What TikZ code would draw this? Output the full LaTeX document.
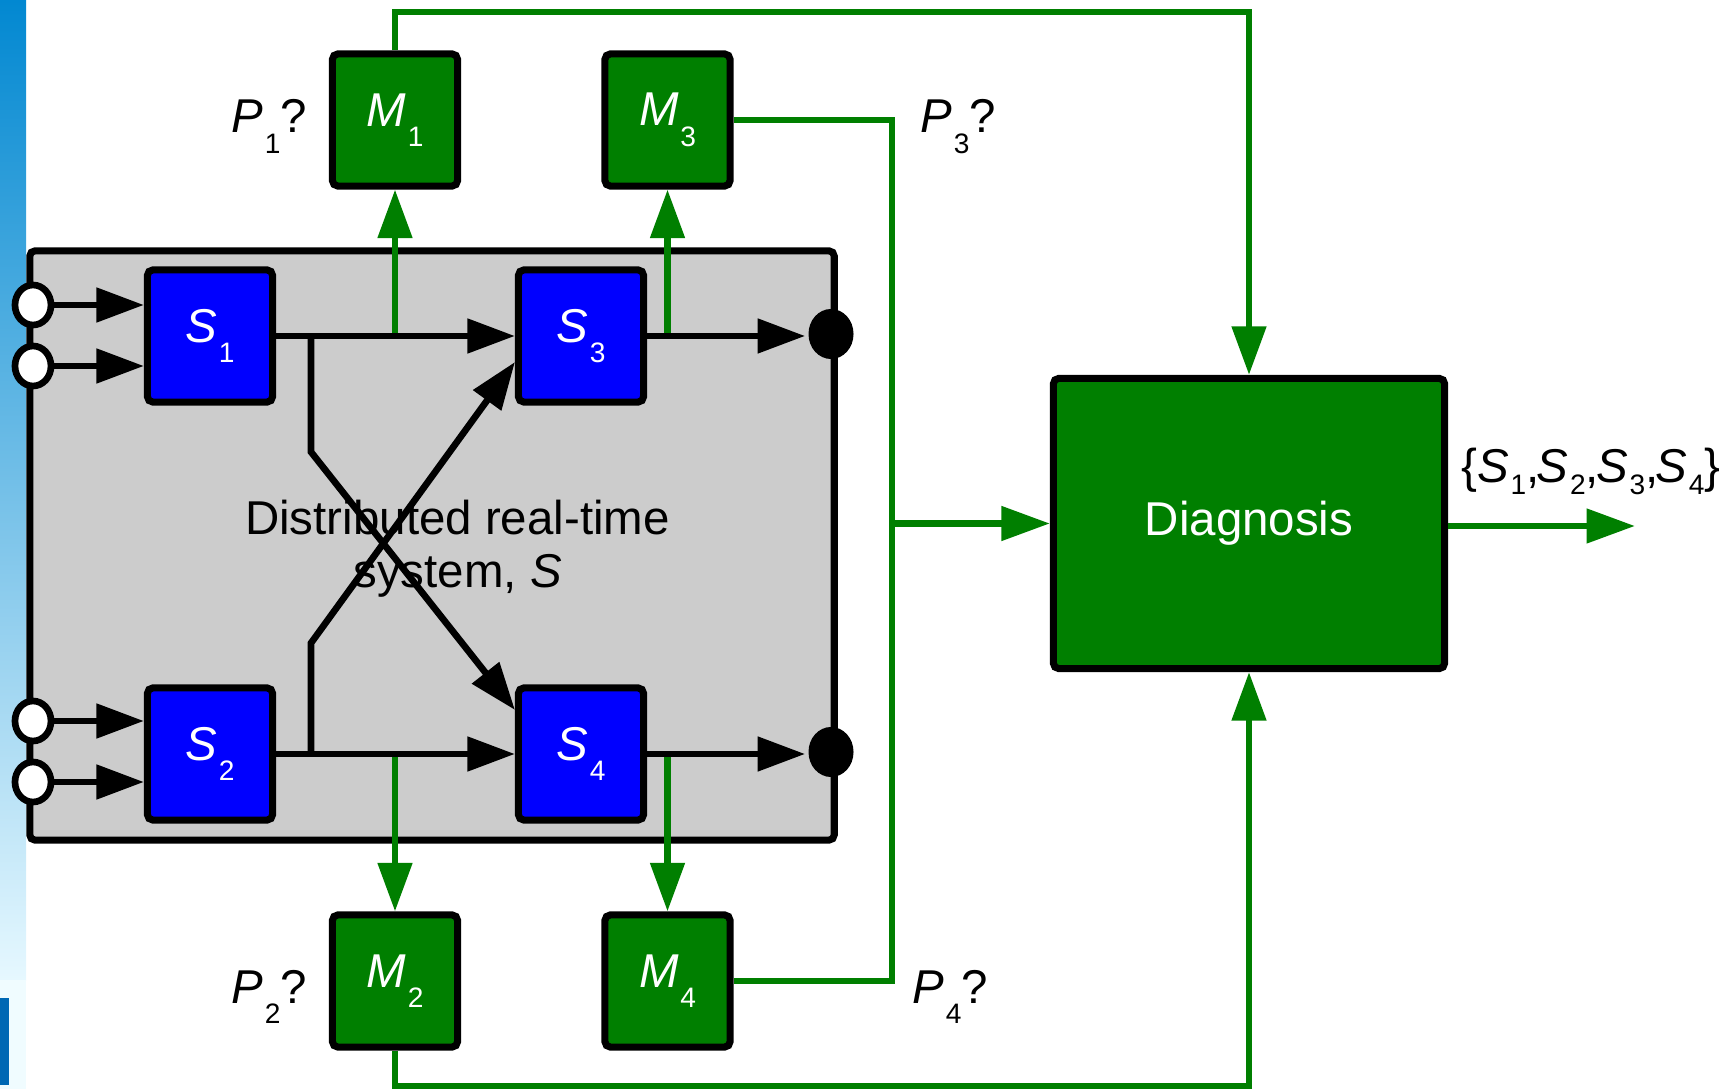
\documentclass[tikz,border=0pt]{standalone}
\usepackage{fontspec}
\setmainfont{Liberation Sans}
\usetikzlibrary{arrows.meta, positioning, shapes.geometric, calc}
\definecolor{cblue}{HTML}{0000FF}
\definecolor{cgreen}{HTML}{007F00}
\definecolor{cgrey}{HTML}{CCCCCC}
\definecolor{stripa}{HTML}{0288D1}
\definecolor{stripb}{HTML}{E6F8FF}
\definecolor{stripc}{HTML}{F0FCFF}
\definecolor{stripd}{HTML}{0068B4}
\tikzset{
  every picture/.style={font=\fontsize{13.5}{15.2}\selectfont, line width=1.9pt},
  unit/.style={draw=black, fill=#1, line width=2pt, rounded corners=1.5pt, minimum width=1.25cm, minimum height=1.32cm, inner sep=0pt, text=white},
  unit/.default=cblue,
  sysbox/.style={draw=black, fill=cgrey, line width=2pt, rounded corners=1.5pt, minimum width=8.04cm, minimum height=5.89cm},
  flow/.style={-{Triangle[length=13.5pt, width=9.5pt]}, draw=black, line width=1.9pt},
  gline/.style={draw=cgreen, line width=1.9pt},
  gflow/.style={gline, -{Triangle[length=13.8pt, width=9.5pt]}},
  port/.style={ellipse, draw=black, fill=white, line width=1.9pt, minimum width=0.36cm, minimum height=0.40cm, inner sep=0pt},
  sink/.style={ellipse, fill=black, minimum width=0.45cm, minimum height=0.50cm, inner sep=0pt},
  note/.style={text=black, inner sep=0pt},
}
\newcommand{\subidx}[3][-5.8pt]{\textit{#2}\kern0.5pt\raisebox{#1}{\fontsize{8}{9}\selectfont #3}}

\begin{document}
\begin{tikzpicture}[x=0.01cm, y=-0.01cm]
  \useasboundingbox (0,0) rectangle (1728,1089);
  % slide edge
  \shade[top color=stripa, bottom color=stripb] (0,0) rectangle (26,980);
  \fill[stripc] (0,980) rectangle (26,1089);
  \fill[stripd] (0,998) rectangle (9,1085);
  % the system and its parts
  \node[sysbox] (sys) at (432,545.5) {};
  \node[align=center] (sysname) at (457.5,549) {Distributed real-time\\system, \textit{S}};
  \node[unit] (S1) at (210,336) {\subidx{S}{1}};
  \node[unit] (S2) at (210,754) {\subidx{S}{2}};
  \node[unit] (S3) at (581,336) {\subidx{S}{3}};
  \node[unit] (S4) at (581,754) {\subidx{S}{4}};
  \foreach \n/\y in {1/305, 2/366, 3/721, 4/782}
    \node[port] (in\n) at (33,\y) {};
  \node[sink] (out1) at (831,334) {};
  \node[sink] (out2) at (831,752) {};
  % monitors and diagnosis
  \node[unit=cgreen] (M1) at (395,120) {\subidx{M}{1}};
  \node[unit=cgreen] (M3) at (667.5,120) {\subidx{M}{3}};
  \node[unit=cgreen] (M2) at (395,981) {\subidx{M}{2}};
  \node[unit=cgreen] (M4) at (667.5,981) {\subidx{M}{4}};
  \node[unit=cgreen, minimum width=3.91cm, minimum height=2.90cm] (diag) at (1249,523.5) {Diagnosis};
  % probes
  \draw[gflow] (M1 |- S1.east) -- (M1.south);
  \draw[gflow] (M3 |- S3.east) -- (M3.south);
  \draw[gflow] (M2 |- S2.east) -- (M2.north);
  \draw[gflow] (M4 |- S4.east) -- (M4.north);
  % signal flow inside S
  \foreach \n/\s in {1/S1, 2/S1, 3/S2, 4/S2}
    \draw[flow] (in\n) -- (in\n -| \s.west);
  \draw[flow] (S1.east) -- (S3.west);
  \draw[flow] (S2.east) -- (S4.west);
  \draw[flow] (S3.east) -- (S3.east -| out1.west);
  \draw[flow] (S4.east) -- (S4.east -| out2.west);
  \coordinate (j1) at ($(S1.east)+(35,0)$);
  \coordinate (j2) at ($(S2.east)+(35,0)$);
  \draw[flow] (j1) -- ++(0,116) -- ([yshift=0.44cm]S4.west);
  \draw[flow] (j2) -- ++(0,-111) -- ([yshift=-0.26cm]S3.west);
  % monitor outputs to diagnosis
  \coordinate (ytop) at (0,12);
  \coordinate (ybot) at (0,1086);
  \coordinate (bus) at (892,523.5);
  \coordinate (res) at (1635,526);
  \draw[gflow] (M1.north) |- (ytop -| diag.north) -- (diag.north);
  \draw[gflow] (M2.south) |- (ybot -| diag.south) -- (diag.south);
  \draw[gline] (M3.east) -| (bus);
  \draw[gline] (M4.east) -| (bus);
  \draw[gflow] (bus) -- (diag.west);
  \draw[gflow] (diag.east |- res) -- (res);
  % labels
  \node[note, anchor=base west] (p1) at (228,133) {\subidx{P}{1}?};
  \node[note, anchor=base west] (p3) at (917,133) {\subidx{P}{3}?};
  \node[note, anchor=base west] (p2) at (228,1003) {\subidx{P}{2}?};
  \node[note, anchor=base west] (p4) at (909,1003) {\subidx{P}{4}?};
  \node[note, anchor=base west] (set) at (1458,483)
    {\{\subidx[-3.4pt]{S}{1},\kern-0.8pt\subidx[-3.4pt]{S}{2},\kern-0.8pt\subidx[-3.4pt]{S}{3},\kern-0.8pt\subidx[-3.4pt]{S}{4}\}};
\end{tikzpicture}
\end{document}
